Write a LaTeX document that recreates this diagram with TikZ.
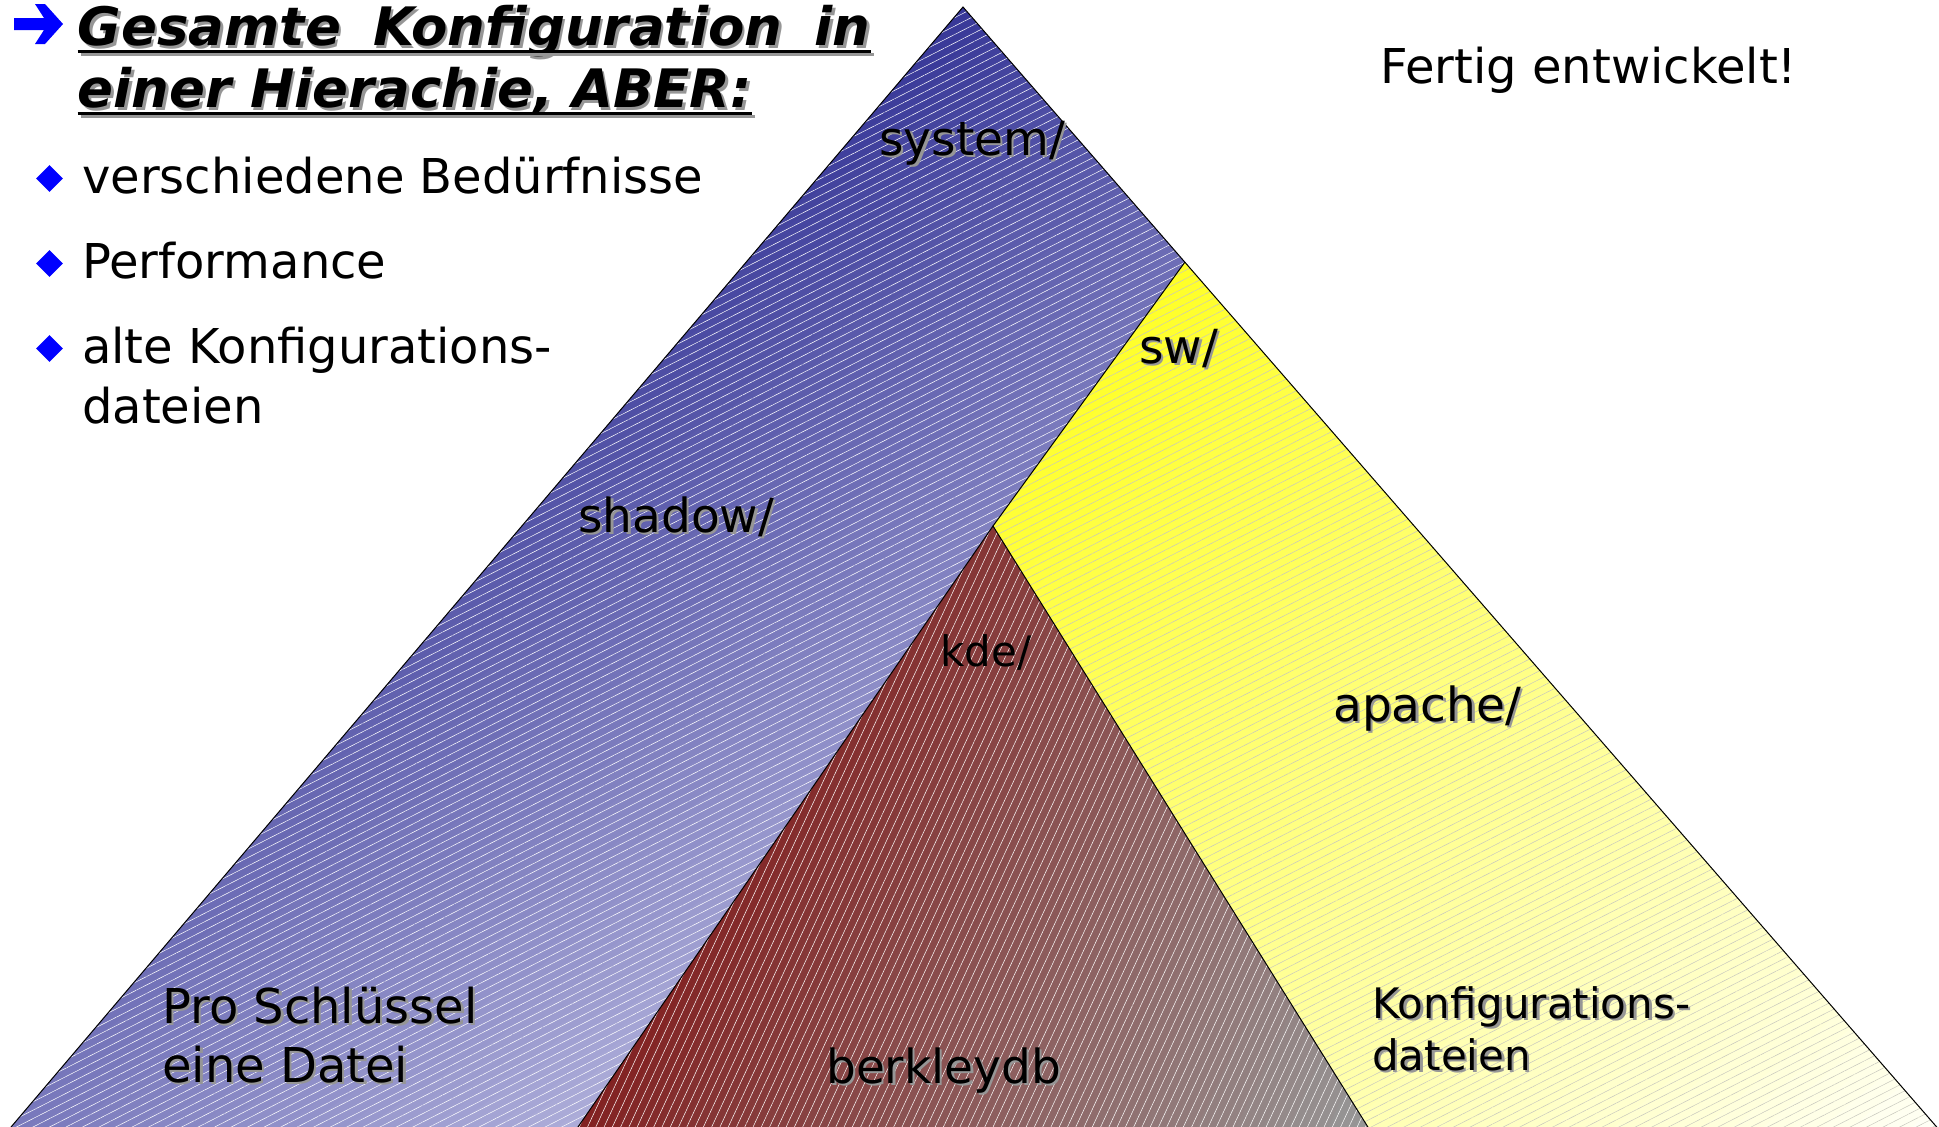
\documentclass[tikz,border=0pt]{standalone}
\usepackage{fontspec}
\setmainfont{DejaVu Sans}
\usetikzlibrary{calc,shapes.geometric,patterns.meta}

\definecolor{indigoTop}{RGB}{56,56,152}
\definecolor{indigoLow}{RGB}{172,172,216}
\definecolor{lemonTop}{RGB}{255,255,40}
\definecolor{lemonLow}{RGB}{255,255,245}
\definecolor{brickLeft}{RGB}{130,34,34}
\definecolor{brickRight}{RGB}{150,150,150}
\definecolor{shadowgrey}{RGB}{150,150,150}
\definecolor{markblue}{RGB}{0,0,255}
\definecolor{stripegrey}{RGB}{200,200,190}

% linear colour ramp inside a clipped region, built from thin strips
% #1 clip path, #2 ramp origin, #3 ramp direction (deg), #4 ramp length,
% #5 start colour, #6 end colour
\newcommand\gradfill[6]{%
  \begin{scope}
    \clip #1;
    \begin{scope}[shift={#2},rotate=#3]
      \fill[#5] (-3000,-3000) rectangle (0.5,3000);
      \foreach \i in {0,...,59}{%
        \pgfmathtruncatemacro\mixpct{round(\i/59*100)}%
        \fill[#6!\mixpct!#5] ({#4/60*\i},-3000) rectangle ({#4/60*(\i+1)+1},3000);
      }
      \fill[#6] (#4,-3000) rectangle ({#4+3000},3000);
    \end{scope}
  \end{scope}}

% text with a soft grey drop shadow
% #1 name, #2 position, #3 extra options, #4 text
\newcommand\shadowlabel[4]{%
  \node[lbl,#3,text=shadowgrey,xshift=2.5pt,yshift=-2.5pt] at #2 {#4};
  \node[lbl,#3] (#1) at #2 {#4};}

\tikzset{
  lbl/.style={anchor=base west,inner sep=0pt,font=\fontsize{47}{56}\selectfont},
  big/.style={font=\fontsize{48}{57}\selectfont},
  small/.style={font=\fontsize{42}{50}\selectfont},
  ttl/.style={font=\fontsize{53}{62}\selectfont\bfseries\itshape},
  edge/.style={draw=black,line width=1pt,line join=miter},
  stripes/.style n args={3}{pattern={Lines[angle=#1,distance=7.5pt,line width=0.5pt]},
    pattern color=#2,fill opacity=#3},
  bulletmark/.style={diamond,fill=markblue,inner sep=0pt,minimum width=27pt,minimum height=27pt},
}

\begin{document}
\begin{tikzpicture}[x=1pt,y=-1pt]
  \fill[white] (0,0) rectangle (1939,1127);
  \useasboundingbox (0,0) rectangle (1939,1127);

  % corner points of the three layers
  \coordinate (A)  at (963,7);
  \coordinate (BL) at (0,1140);
  \coordinate (BR) at (1948,1140);
  \coordinate (Y)  at (1185,262);
  \coordinate (K)  at (993,526);
  \coordinate (L)  at (569,1140);
  \coordinate (RR) at (1376,1140);

  % blue layer
  \gradfill{(A) -- (BL) -- (BR) -- cycle}{(963,7)}{-56}{713}{indigoTop}{indigoLow}
  \fill[stripes={27}{white}{0.12}] (A) -- (BL) -- (BR) -- cycle;

  % yellow layer
  \gradfill{(Y) -- (K) -- (L) -- (BR) -- cycle}{(1185,262)}{-50}{1149}{lemonTop}{lemonLow}
  \fill[stripes={27}{stripegrey}{0.25}] (Y) -- (K) -- (L) -- (BR) -- cycle;

  % red layer
  \gradfill{(K) -- (L) -- (RR) -- cycle}{(578,1127)}{-25}{716}{brickLeft}{brickRight}
  \fill[stripes={65}{white}{0.1}] (K) -- (L) -- (RR) -- cycle;

  % outlines
  \draw[edge] (BL) -- (A) -- (BR);
  \draw[edge] (Y) -- (K);
  \draw[edge] (L) -- (K) -- (RR);

  % heading with arrow
  \fill[markblue] (14,18) -- (44,18) -- (35,4) -- (45,4) -- (63,24) -- (45,44)
    -- (35,44) -- (44,30) -- (14,30) -- cycle;
  \shadowlabel{t1}{(77,45)}{ttl,xshift=0.5pt,yshift=-0.5pt}{\makebox[793pt][s]{Gesamte Konfiguration in}}
  \shadowlabel{t2}{(77,107)}{ttl,xshift=0.5pt,yshift=-0.5pt}{einer Hierachie, ABER:}
  \draw[shadowgrey,line width=3pt] ([shift={(3pt,-9pt)}]t1.base west) -- ([shift={(3pt,-9pt)}]t1.base east);
  \draw[shadowgrey,line width=3pt] ([shift={(3pt,-9pt)}]t2.base west) -- ([shift={(3pt,-9pt)}]t2.base east);
  \draw[black,line width=3pt] ([yshift=-6pt]t1.base west) -- ([yshift=-6pt]t1.base east);
  \draw[black,line width=3pt] ([yshift=-6pt]t2.base west) -- ([yshift=-6pt]t2.base east);

  % bullet list
  \node[bulletmark] (d1) at (49.5,178.5) {};
  \node[bulletmark] (d2) at (49.5,263.5) {};
  \node[bulletmark] (d3) at (49.5,348.5) {};
  \node[lbl,big] (i1) at (82,193) {verschiedene Bedürfnisse};
  \node[lbl,big] (i2) at (82,278) {Performance};
  \node[lbl,big] (i3) at (82,363) {alte Konfigurations-};
  \node[lbl,big] (i4) at (82,423) {dateien};

  \node[lbl,big] (done) at (1380,83) {Fertig entwickelt!};

  % layer labels
  \shadowlabel{sys}{(879,155)}{}{system/}
  \shadowlabel{sw}{(1139,363)}{}{sw/}
  \shadowlabel{shd}{(578,532)}{}{shadow/}
  \node[lbl,small] (kde) at (940,666) {kde/};
  \shadowlabel{apa}{(1333,721)}{}{apache/}
  \shadowlabel{pro1}{(162,1023)}{big}{Pro Schlüssel}
  \shadowlabel{pro2}{(162,1082)}{big}{eine Datei}
  \shadowlabel{bdb}{(826,1083)}{}{berkleydb}
  \shadowlabel{kf1}{(1372,1018)}{small}{Konfigurations-}
  \shadowlabel{kf2}{(1372,1070)}{small}{dateien}
\end{tikzpicture}
\end{document}
